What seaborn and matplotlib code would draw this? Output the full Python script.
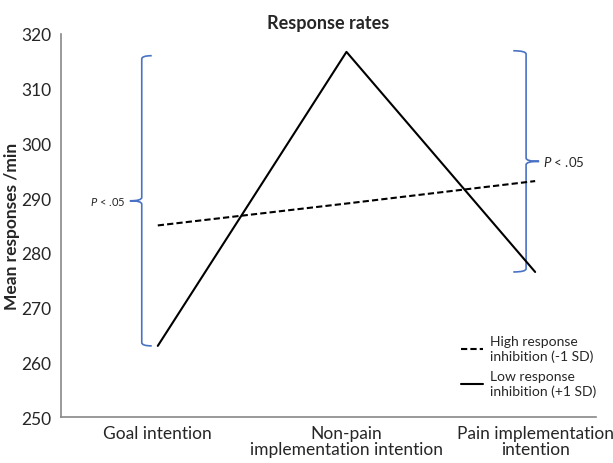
import matplotlib
matplotlib.use("Agg")
import pandas as pd
import matplotlib.pyplot as plt
from matplotlib.path import Path
import matplotlib.patches as mpatches
from matplotlib.lines import Line2D
import seaborn as sns

sns.set_style("white")
plt.rcParams['font.family'] = ['Lato', 'DejaVu Sans']
plt.rcParams['mathtext.fontset'] = 'custom'
plt.rcParams['mathtext.it'] = 'Lato:italic'
plt.rcParams['mathtext.rm'] = 'Lato'

# data
conditions = ["Goal intention", "Non-pain\nimplementation intention", "Pain implementation\nintention"]
high_inhibition = [285.0, 289.0, 293.1]
low_inhibition = [263.0, 316.7, 276.5]
series_labels = ["High response\ninhibition (-1 SD)", "Low response\ninhibition (+1 SD)"]
y_ticks = [250, 260, 270, 280, 290, 300, 310, 320]

df = pd.DataFrame({
    'condition': conditions * 2,
    'pos': [0, 1, 2] * 2,
    'value': high_inhibition + low_inhibition,
    'group': [series_labels[0]] * 3 + [series_labels[1]] * 3,
})

fig = plt.figure(figsize=(6.13, 4.64), dpi=100)
ax = fig.add_axes([0.0995, 0.099, 0.872, 0.826])

sns.lineplot(data=df, x='pos', y='value', hue='group', style='group',
             palette=['black', 'black'], dashes=[(3, 1.5), ''],
             linewidth=1.5, legend=False, ax=ax)

ax.set_xlim(-0.513, 2.32)
ax.set_ylim(250, 320)
ax.set_yticks(y_ticks)
ax.set_xticks([0, 1, 2])
ax.set_xticklabels(conditions, fontsize=12.5)
ax.tick_params(axis='y', labelsize=12.5, length=0, pad=7)
ax.tick_params(axis='x', length=0, pad=6)
for lab in ax.get_xticklabels():
    lab.set_linespacing(1.0)

for s in ['top', 'right']:
    ax.spines[s].set_visible(False)
for s in ['left', 'bottom']:
    ax.spines[s].set_color('#888888')
    ax.spines[s].set_linewidth(1.2)

ax.set_xlabel("")
ax.set_ylabel("Mean responses /min", fontsize=12.5, fontweight='bold')
ax.yaxis.set_label_coords(-0.076, 0.5)
ax.set_title("Response rates", fontsize=13, fontweight='bold', pad=4)

blue = '#4a72c4'


def brace(x, y0, y1, tip, hook):
    # curly bracket drawn in data coords
    ym = (y0 + y1) / 2
    r = 0.6
    verts = [
        (hook, y1), (x, y1), (x, y1 - r),
        (x, ym + r), (x, ym), (tip, ym),
        (x, ym), (x, ym - r),
        (x, y0 + r), (x, y0), (hook, y0),
    ]
    codes = [Path.MOVETO, Path.CURVE3, Path.CURVE3,
             Path.LINETO, Path.CURVE3, Path.CURVE3,
             Path.CURVE3, Path.CURVE3,
             Path.LINETO, Path.CURVE3, Path.CURVE3]
    ax.add_patch(mpatches.PathPatch(Path(verts, codes), fill=False,
                                    edgecolor=blue, linewidth=1.2, clip_on=False))
    return ym


ym_left = brace(-0.085, low_inhibition[0], 316.0, -0.148, -0.032)
ax.text(-0.17, ym_left, r"$\it{P}$ < .05", fontsize=8, ha='right', va='center')

ym_right = brace(1.952, low_inhibition[2], low_inhibition[1] + 0.2, 2.021, 1.884)
ax.text(2.04, ym_right, r"$\it{P}$ < .05", fontsize=9.5, ha='left', va='center')

handles = [Line2D([], [], color='black', linestyle=(0, (3, 1.5)), linewidth=1.5),
           Line2D([], [], color='black', linestyle='-', linewidth=1.5)]
ax.legend(handles, series_labels, loc='lower right', bbox_to_anchor=(1.025, 0.02),
          frameon=False, fontsize=10, handlelength=1.6, handletextpad=0.5,
          labelspacing=0.6)

fig.savefig("out.png", dpi=100)
